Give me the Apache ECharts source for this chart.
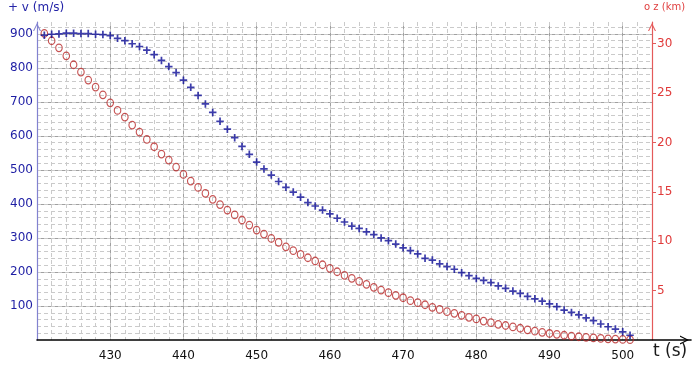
<!DOCTYPE html>
<html>
<head>
<meta charset="utf-8">
<script src="https://cdn.jsdelivr.net/npm/echarts@6/dist/echarts.min.js"></script>
<style>html,body{margin:0;padding:0;background:#fff;}#c{width:700px;height:370px;}</style>
</head>
<body>
<div id="c"></div>
<script>
// time (s)
var times = [];
for (var t = 421; t <= 501; t++) times.push(t);
// speed v (m/s), one sample per second
var speedV = [
  896, 899, 900, 902, 902, 901, 901, 899, 898, 895,
  887, 880, 871, 863, 852, 839, 822, 804, 786, 764,
  743, 719, 694, 669, 643, 620, 595, 569, 546, 523,
  503, 485, 466, 449, 435, 420, 404, 394, 382, 371,
  358, 347, 335, 328, 318, 310, 300, 292, 282, 271,
  263, 253, 240, 235, 224, 216, 208, 198, 189, 181,
  175, 169, 159, 152, 144, 137, 128, 121, 114, 106,
  98, 88, 81, 74, 65, 57, 47, 39, 32, 24, 14
];
// altitude z (km)
var altitudeZ = [
  31.04, 30.30, 29.59, 28.78, 27.87, 27.13, 26.32, 25.61, 24.83, 24.02,
  23.25, 22.57, 21.76, 21.05, 20.31, 19.57, 18.83, 18.22, 17.51, 16.77,
  16.09, 15.45, 14.85, 14.24, 13.71, 13.16, 12.66, 12.15, 11.64, 11.13,
  10.73, 10.29, 9.89, 9.44, 9.04, 8.67, 8.33, 8.00, 7.62, 7.26,
  6.91, 6.55, 6.25, 5.94, 5.64, 5.33, 5.06, 4.79, 4.52, 4.28,
  3.98, 3.78, 3.57, 3.31, 3.10, 2.87, 2.70, 2.50, 2.30, 2.13,
  1.92, 1.75, 1.59, 1.47, 1.32, 1.19, 1.03, 0.89, 0.78, 0.66,
  0.57, 0.48, 0.40, 0.33, 0.27, 0.21, 0.16, 0.12, 0.09, 0.06, 0.03
];
var xTickLabels = [430, 440, 450, 460, 470, 480, 490, 500];
var vTickLabels = [100, 200, 300, 400, 500, 600, 700, 800, 900];
var zTickLabels = [5, 10, 15, 20, 25, 30];

var vData = times.map(function (t, i) { return [t, speedV[i]]; });
var zData = times.map(function (t, i) { return [t, altitudeZ[i]]; });

var chevron = 'path://M0,10L5,0L10,10L8.6,10L5,2.8L1.4,10Z';
var plus = 'path://M2.7,0H4.3V2.7H7V4.3H4.3V7H2.7V4.3H0V2.7H2.7Z';
var FONT = 'DejaVu Sans';

var chart = echarts.init(document.getElementById('c'), null, {renderer: 'canvas'});
chart.setOption({
  animation: false,
  backgroundColor: '#fff',
  textStyle: {fontFamily: FONT},
  title: [
    {text: '+ v (m/s)', left: 8, top: 2, padding: 0,
     textStyle: {fontSize: 12, fontWeight: 'normal', color: '#2424a8', fontFamily: FONT}},
    {text: 'o z (km)', left: 644, top: 2, padding: 0,
     textStyle: {fontSize: 10, fontWeight: 'normal', color: '#e04040', fontFamily: FONT}},
    {text: 't (s)', left: 653, top: 343, padding: 0,
     textStyle: {fontSize: 17, fontWeight: 'normal', color: '#1a1a1a', fontFamily: FONT}}
  ],
  grid: [
    {left: 37, right: 48, top: 22, bottom: 30},
    {left: 37, right: 9, top: 22, bottom: 30}
  ],
  xAxis: [
    { // major
      type: 'value', gridIndex: 0, min: 420, max: 504, interval: 10, position: 'bottom',
      axisLine: {show: false}, axisTick: {show: false},
      axisLabel: {color: '#111', fontSize: 12, margin: 10, fontFamily: FONT,
        showMinLabel: false, showMaxLabel: false,
        formatter: function (v) { return xTickLabels.indexOf(v) >= 0 ? String(v) : ''; }},
      splitLine: {show: true, showMinLine: false, showMaxLine: false,
        lineStyle: {color: '#a0a0a0', width: 1}}
    },
    { // minor
      type: 'value', gridIndex: 0, min: 420, max: 504, interval: 2, position: 'top',
      axisLine: {show: false}, axisTick: {show: false}, axisLabel: {show: false},
      splitLine: {show: true, showMinLine: false, showMaxLine: false,
        lineStyle: {color: '#cacaca', width: 1, type: [4, 3]}}
    },
    { // long black time axis with arrow
      type: 'value', gridIndex: 1, min: 0, max: 1, position: 'bottom',
      axisLine: {show: true, lineStyle: {color: '#000', width: 1.6},
        symbol: ['none', chevron], symbolSize: [9, 13], symbolOffset: [0, -6.5]},
      axisTick: {show: false}, axisLabel: {show: false}, splitLine: {show: false}
    }
  ],
  yAxis: [
    { // v axis
      type: 'value', gridIndex: 0, min: 0, max: 935, interval: 100, position: 'left',
      axisLine: {show: true, lineStyle: {color: '#8282d0', width: 1.2},
        symbol: ['none', chevron], symbolSize: [8, 10], symbolOffset: [0, -5]},
      axisTick: {show: false},
      axisLabel: {color: '#1e1ea4', fontSize: 12, margin: 4, fontFamily: FONT,
        showMinLabel: false, showMaxLabel: false,
        formatter: function (v) { return vTickLabels.indexOf(v) >= 0 ? String(v) : ''; }},
      splitLine: {show: true, showMinLine: false, showMaxLine: false,
        lineStyle: {color: '#a0a0a0', width: 1}}
    },
    { // z axis
      type: 'value', gridIndex: 0, min: 0, max: 32.2, interval: 5, position: 'right',
      axisLine: {show: true, lineStyle: {color: '#e45a5a', width: 1.2},
        symbol: ['none', chevron], symbolSize: [8, 10], symbolOffset: [0, -5]},
      axisTick: {show: true, length: 4, lineStyle: {color: '#e45a5a'}},
      axisLabel: {color: '#e03a3a', fontSize: 12, margin: 5, fontFamily: FONT,
        padding: [0, 0, 6, 0],
        showMinLabel: false, showMaxLabel: false,
        formatter: function (v) { return zTickLabels.indexOf(v) >= 0 ? String(v) : ''; }},
      splitLine: {show: false}
    },
    { // minor horizontal grid
      type: 'value', gridIndex: 0, min: 0, max: 935, interval: 20, position: 'left',
      axisLine: {show: false}, axisTick: {show: false}, axisLabel: {show: false},
      splitLine: {show: true, showMinLine: false, showMaxLine: false,
        lineStyle: {color: '#cacaca', width: 1, type: [4, 3]}}
    },
    {type: 'value', gridIndex: 1, min: 0, max: 1, show: false}
  ],
  series: [
    {
      name: 'z (km)', type: 'scatter', xAxisIndex: 0, yAxisIndex: 1, data: zData,
      symbol: 'circle', symbolSize: [6.5, 7.5],
      itemStyle: {color: 'rgba(0,0,0,0)', borderColor: '#b82828', borderWidth: 1.2},
      z: 3
    },
    {
      name: 'v (m/s)', type: 'scatter', xAxisIndex: 0, yAxisIndex: 0, data: vData,
      symbol: plus, symbolSize: 7.5,
      itemStyle: {color: '#0c0c96'},
      z: 4
    }
  ]
});
</script>
</body>
</html>
